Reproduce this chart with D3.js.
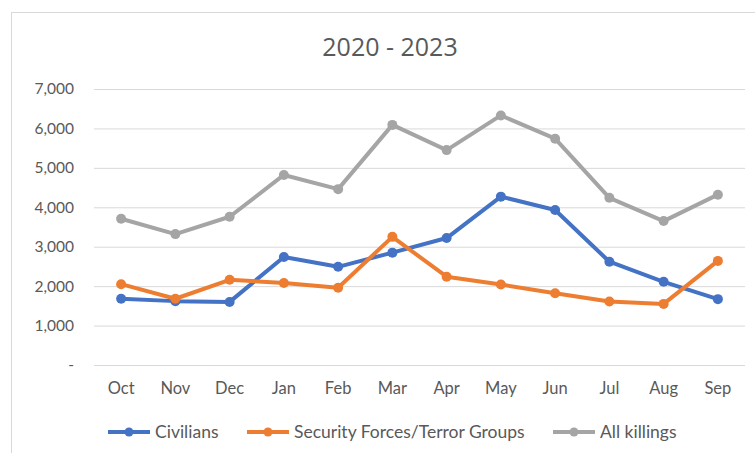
<!DOCTYPE html>
<html><head><meta charset="utf-8">
<script src="https://cdn.jsdelivr.net/npm/d3@7"></script>
<style>body{margin:0;background:#fff;} svg{display:block;}</style>
</head><body>
<script>
const months = ["Oct","Nov","Dec","Jan","Feb","Mar","Apr","May","Jun","Jul","Aug","Sep"];
const civilians = [1680,1620,1600,2740,2490,2850,3220,4270,3930,2620,2110,1670];
const security = [2050,1680,2160,2080,1960,3250,2240,2040,1820,1610,1550,2640];
const allKillings = [3710,3320,3760,4820,4460,6090,5450,6330,5740,4240,3650,4320];
const yTicks = [0,1000,2000,3000,4000,5000,6000,7000];
const seriesNames = ["Civilians","Security Forces/Terror Groups","All killings"];
const colors = ["#4472C4","#ED7D31","#A5A5A5"];
const series = [civilians, security, allKillings];

const W=755,H=453;
const font = "Lato, 'Open Sans', sans-serif";
const svg = d3.select("body").append("svg").attr("width",W).attr("height",H);
svg.append("rect").attr("x",11.5).attr("y",12.5).attr("width",760).attr("height",460)
  .attr("fill","#fff").attr("stroke","#d9d9d9").attr("stroke-width",1);

const x = d3.scaleBand().domain(months).range([94,745]);
const y = d3.scaleLinear().domain([0,7000]).range([365,89]);

svg.append("text").attr("x",390).attr("y",56).attr("text-anchor","middle")
  .attr("font-family","'Open Sans', sans-serif").attr("font-size",25).attr("fill","#595959")
  .text("2020 - 2023");

const yAxis = svg.append("g").attr("transform","translate(94,0)")
  .call(d3.axisLeft(y).tickValues(yTicks).tickSize(-651)
    .tickFormat(d=> d===0 ? "-" : d3.format(",")(d)));
yAxis.select(".domain").remove();
yAxis.selectAll(".tick line").attr("stroke","#d9d9d9").attr("stroke-width",1);
yAxis.selectAll(".tick text").attr("x",-20).attr("fill","#595959")
  .attr("font-family",font).attr("font-size",15.5);

const xAxis = svg.append("g").attr("transform","translate(0,365)")
  .call(d3.axisBottom(x).tickSize(0));
xAxis.select(".domain").remove();
xAxis.selectAll(".tick text").attr("dy",0).attr("y",29).attr("fill","#595959")
  .attr("font-family",font).attr("font-size",16.5);

const line = d3.line().x((d,i)=>x(months[i])+x.bandwidth()/2).y(d=>y(d));
series.forEach((s,k)=>{
  svg.append("path").datum(s).attr("d",line).attr("fill","none")
    .attr("stroke",colors[k]).attr("stroke-width",4).attr("stroke-linejoin","round");
  svg.selectAll(null).data(s).enter().append("circle")
    .attr("cx",(d,i)=>x(months[i])+x.bandwidth()/2).attr("cy",d=>y(d)).attr("r",5)
    .attr("fill",colors[k]);
});

const legendX = [108,247,553];
const lg = svg.append("g");
seriesNames.forEach((n,k)=>{
  const g = lg.append("g").attr("transform",`translate(${legendX[k]},432)`);
  g.append("line").attr("x1",0).attr("x2",42).attr("stroke",colors[k]).attr("stroke-width",4);
  g.append("circle").attr("cx",21).attr("r",4.5).attr("fill",colors[k]);
  g.append("text").attr("x",47).attr("y",6).attr("fill","#595959")
    .attr("font-family",font).attr("font-size",17.5).text(n);
});
</script>
</body></html>
